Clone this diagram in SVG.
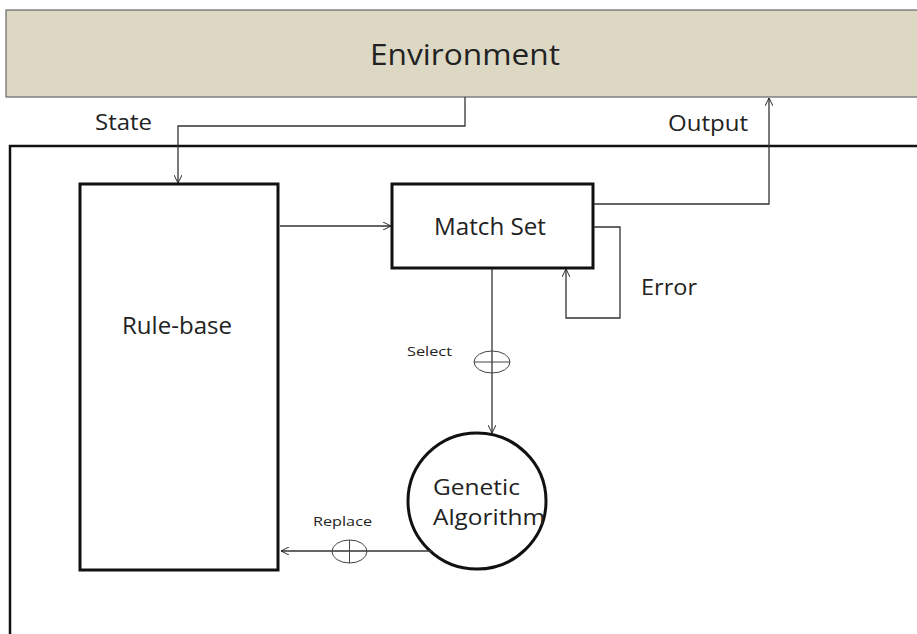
<svg xmlns="http://www.w3.org/2000/svg" width="917" height="634" viewBox="0 0 917 634">
<defs>
<marker id="arr" viewBox="0 0 10 10" refX="10" refY="5" markerWidth="8" markerHeight="8" markerUnits="userSpaceOnUse" orient="auto">
<path d="M0,0 L10,5 L0,10" fill="none" stroke="#222" stroke-width="1.2"/>
</marker>
</defs>
<style>
text{font-family:"Open Sans","Liberation Sans",sans-serif;fill:#222}
.box{fill:#fff;stroke:#111;stroke-width:3}
.ln{fill:none;stroke:#333;stroke-width:1.3}
.thin{fill:none;stroke:#444;stroke-width:1}
</style>
<rect width="917" height="634" fill="#fff"/>
<g id="environment">
<rect x="6" y="10" width="920" height="87" fill="#ddd8c4" stroke="#666" stroke-width="1.2"/>
<text x="370" y="65" font-size="29" textLength="190" lengthAdjust="spacingAndGlyphs">Environment</text>
</g>
<g id="system">
<rect x="10" y="146" width="920" height="500" fill="none" stroke="#111" stroke-width="2.5"/>
</g>
<g id="rule-base">
<rect class="box" x="80" y="184" width="198" height="386"/>
<text x="122" y="334" font-size="23" textLength="110" lengthAdjust="spacingAndGlyphs">Rule-base</text>
</g>
<g id="match-set">
<rect class="box" x="392" y="184" width="201" height="84"/>
<text x="434" y="235" font-size="23" textLength="112" lengthAdjust="spacingAndGlyphs">Match Set</text>
</g>
<g id="genetic-algorithm">
<ellipse cx="477" cy="501" rx="69" ry="68" fill="#fff" stroke="#111" stroke-width="3"/>
<text x="433" y="495" font-size="22" textLength="87" lengthAdjust="spacingAndGlyphs">Genetic</text>
<text x="433" y="525" font-size="22" textLength="112" lengthAdjust="spacingAndGlyphs">Algorithm</text>
</g>
<g id="connectors">
<polyline class="ln" points="465,97 465,126 178,126 178,183" marker-end="url(#arr)"/>
<polyline class="ln" points="594,204 769,204 769,98" marker-end="url(#arr)"/>
<line class="ln" x1="280" y1="226" x2="391" y2="226" marker-end="url(#arr)"/>
<polyline class="ln" points="594,227 620,227 620,318 566,318 566,269" marker-end="url(#arr)"/>
<line class="ln" x1="492" y1="269" x2="492" y2="433" marker-end="url(#arr)"/>
<line class="ln" x1="432" y1="551" x2="281" y2="551" marker-end="url(#arr)"/>
<ellipse class="thin" cx="492" cy="362" rx="18" ry="11"/>
<line class="thin" x1="474" y1="362" x2="510" y2="362"/>
<ellipse class="thin" cx="349.5" cy="551.5" rx="17.5" ry="11.5"/>
<line class="thin" x1="349.5" y1="540" x2="349.5" y2="563"/>
</g>
<g id="labels">
<text x="95" y="130" font-size="21" textLength="57" lengthAdjust="spacingAndGlyphs">State</text>
<text x="668" y="131" font-size="21" textLength="80" lengthAdjust="spacingAndGlyphs">Output</text>
<text x="641" y="295" font-size="21" textLength="56" lengthAdjust="spacingAndGlyphs">Error</text>
<text x="407" y="356" font-size="13" textLength="45" lengthAdjust="spacingAndGlyphs">Select</text>
<text x="313" y="526" font-size="13" textLength="59" lengthAdjust="spacingAndGlyphs">Replace</text>
</g>
</svg>
